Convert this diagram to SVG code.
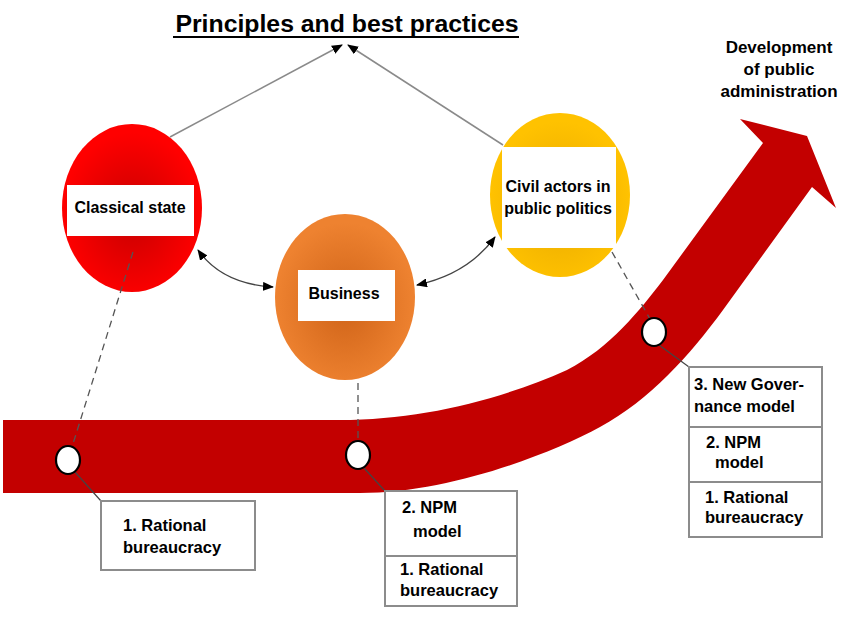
<svg xmlns="http://www.w3.org/2000/svg" width="850" height="625" viewBox="0 0 850 625">
<style>
text{font-family:"Liberation Sans",Arial,sans-serif;font-weight:bold;fill:#000}
.lbl{font-size:16px;text-anchor:middle}
.bx{font-size:16.5px}
.box{fill:#fff;stroke:#8c8c8c;stroke-width:2}
.div{stroke:#8c8c8c;stroke-width:2}
.gray{stroke:#8a8a8a;stroke-width:1.5;fill:none}
.curve{stroke:#444;stroke-width:1.3;fill:none}
.dash{stroke:#555;stroke-width:1.3;stroke-dasharray:7 5;fill:none}
.thin{stroke:#444;stroke-width:1.2;fill:none}
.mile{fill:#fff;stroke:#000;stroke-width:2.2}
.card{fill:#fff}
</style>
<defs>
<marker id="ah" markerUnits="userSpaceOnUse" markerWidth="11" markerHeight="9" refX="10" refY="4.5" orient="auto-start-reverse">
<path d="M0,0 L11,4.5 L0,9 z" fill="#000"/>
</marker>
<radialGradient id="gRed" cx="0.5" cy="0.55" r="0.5">
<stop offset="0" stop-color="#c80000"/><stop offset="1" stop-color="#ff0000"/>
</radialGradient>
<radialGradient id="gOrange" cx="0.5" cy="0.55" r="0.5">
<stop offset="0" stop-color="#cf6318"/><stop offset="1" stop-color="#ee8230"/>
</radialGradient>
<radialGradient id="gYellow" cx="0.5" cy="0.55" r="0.5">
<stop offset="0" stop-color="#e8a800"/><stop offset="1" stop-color="#ffc200"/>
</radialGradient>
</defs>
<rect width="850" height="625" fill="#fff"/>

<g id="band">
<path d="M3,420 H340 C420,420 500,400 567,370 C610,348 640,310 663,280 L763,143 L740,119 L807,136 L836,208 L812,187 L723,310 C690,355 650,400 600,427 C550,454 450,493 360,493 H3 Z" fill="#c30000"/>
</g>

<g id="title">
<text x="347" y="32" style="font-size:24.8px" text-anchor="middle">Principles and best practices</text>
<line x1="173" y1="37" x2="519" y2="37" stroke="#000" stroke-width="2"/>
</g>

<g id="development">
<text class="lbl" style="font-size:17px" x="779" y="53">Development</text>
<text class="lbl" style="font-size:17px" x="779" y="75">of public</text>
<text class="lbl" style="font-size:17px" x="779" y="97">administration</text>
</g>

<g id="classical-state">
<ellipse cx="132" cy="208" rx="70" ry="84" fill="url(#gRed)"/>
<rect class="card" x="67" y="185" width="127" height="51"/>
<text class="lbl" x="130" y="213">Classical state</text>
</g>

<g id="business">
<ellipse cx="345" cy="297" rx="70" ry="83" fill="url(#gOrange)"/>
<rect class="card" x="298" y="270" width="97" height="51"/>
<text class="lbl" x="344" y="299">Business</text>
</g>

<g id="civil-actors">
<ellipse cx="560" cy="195" rx="70" ry="82" fill="url(#gYellow)"/>
<rect class="card" x="502" y="147" width="114" height="101"/>
<text class="lbl" x="558" y="192">Civil actors in</text>
<text class="lbl" x="558" y="214">public politics</text>
</g>

<g id="connectors">
<line class="gray" x1="170" y1="137" x2="342" y2="45" marker-end="url(#ah)"/>
<line class="gray" x1="503" y1="145" x2="348" y2="45" marker-end="url(#ah)"/>
<path class="curve" d="M198,250 Q222,284 273,287" marker-start="url(#ah)" marker-end="url(#ah)"/>
<path class="curve" d="M417,285 Q468,274 495,237" marker-start="url(#ah)" marker-end="url(#ah)"/>
<line class="dash" x1="133" y1="252" x2="72" y2="447"/>
<line class="dash" x1="358" y1="383" x2="358" y2="441"/>
<line class="dash" x1="612" y1="252" x2="650" y2="319"/>
<line class="thin" x1="75" y1="472" x2="101" y2="501"/>
<line class="thin" x1="364" y1="468" x2="385" y2="491"/>
<line class="thin" x1="659" y1="345" x2="689" y2="367"/>
</g>

<g id="milestone-1"><ellipse class="mile" cx="68" cy="460" rx="12" ry="14"/></g>
<g id="milestone-2"><ellipse class="mile" cx="358" cy="455" rx="12" ry="14"/></g>
<g id="milestone-3"><ellipse class="mile" cx="654" cy="332" rx="12" ry="14"/></g>

<g id="box-1">
<rect class="box" x="101" y="501" width="154" height="69"/>
<text class="bx" x="123" y="531">1. Rational</text>
<text class="bx" x="123" y="553">bureaucracy</text>
</g>

<g id="box-2">
<rect class="box" x="385" y="491" width="132" height="115"/>
<line class="div" x1="385" y1="556" x2="517" y2="556"/>
<text class="bx" x="402" y="513">2. NPM</text>
<text class="bx" x="413" y="537">model</text>
<text class="bx" x="400" y="575">1. Rational</text>
<text class="bx" x="400" y="596">bureaucracy</text>
</g>

<g id="box-3">
<rect class="box" x="689" y="367" width="133" height="170"/>
<line class="div" x1="689" y1="427" x2="822" y2="427"/>
<line class="div" x1="689" y1="482" x2="822" y2="482"/>
<text class="bx" x="694" y="390">3. New Gover-</text>
<text class="bx" x="694" y="412">nance model</text>
<text class="bx" x="706" y="448">2. NPM</text>
<text class="bx" x="715" y="468">model</text>
<text class="bx" x="705" y="503">1. Rational</text>
<text class="bx" x="705" y="523">bureaucracy</text>
</g>
</svg>
